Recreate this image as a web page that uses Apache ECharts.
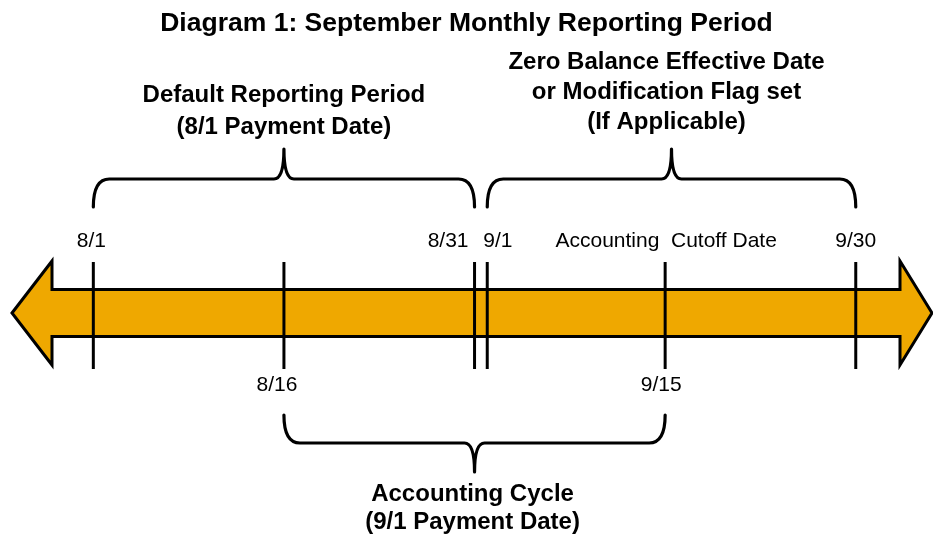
<!DOCTYPE html>
<html><head><meta charset="utf-8">
<script src="https://cdn.jsdelivr.net/npm/echarts@6/dist/echarts.min.js"></script>
<style>html,body{margin:0;padding:0;background:#fff}#main{width:933px;height:538px}</style>
</head><body><div id="main"></div>
<script>
// ---- data ----
const titleText = 'Diagram 1: September Monthly Reporting Period';
const tickNames = ['8/1', '8/16', '8/31', '9/1', '9/15', '9/30'];
const tickDays = [1, 16, 31, 32, 46, 61];           // day index from Aug 1
const topLabels = ['8/1', '', '8/31', '9/1', 'Accounting  Cutoff Date', '9/30'];
const bottomLabels = ['', '8/16', '', '', '9/15', ''];
const timelineStart = -5.4;
const timelineEnd = 67;
const braceStarts = [1, 32, 16];
const braceEnds = [31, 61, 46];
const braceSides = ['top', 'top', 'bottom'];
const braceLabels = [
  'Default Reporting Period\n(8/1 Payment Date)',
  'Zero Balance Effective Date\nor Modification Flag set\n(If Applicable)',
  'Accounting Cycle\n(9/1 Payment Date)'
];

// ---- styles ----
const FONT = '"Liberation Sans", Arial, Helvetica, sans-serif';
const ORANGE = '#EFA800';
const topLabelDx = [-2, 0, -6, -4, 1, 0];
const topLabelAlign = ['center', 'center', 'right', 'left', 'center', 'center'];
const bottomLabelDx = [0, -7, 0, 0, -4, 0];
const braceLabelDx = [0, -5, -2];
const braceLabelGap = [6, 12, 8];
const braceLineHeight = [32, 30, 28];

const chart = echarts.init(document.getElementById('main'), null, {renderer: 'canvas'});

const option = {
  backgroundColor: '#fff',
  animation: false,
  title: {
    text: titleText, left: 'center', top: 10, padding: 0,
    textStyle: {fontFamily: FONT, fontWeight: 'bold', fontSize: 26.5, color: '#000'}
  },
  grid: {left: 12, right: 1, top: 0, bottom: 0},
  xAxis: {type: 'value', min: timelineStart, max: timelineEnd, show: false},
  yAxis: {type: 'value', min: -225, max: 313, show: false},
  series: [
    {
      type: 'custom', clip: false, silent: true,
      data: [[timelineStart, timelineEnd]],
      renderItem: function (params, api) {
        const a = api.coord([api.value(0), 0]);
        const b = api.coord([api.value(1), 0]);
        const cy = a[1], hs = 23.5, hh = 52, hl = 40, hr = 32;
        return {
          type: 'polygon',
          shape: {points: [
            [a[0], cy], [a[0] + hl, cy - hh], [a[0] + hl, cy - hs], [b[0] - hr, cy - hs],
            [b[0] - hr, cy - hh], [b[0], cy], [b[0] - hr, cy + hh], [b[0] - hr, cy + hs],
            [a[0] + hl, cy + hs], [a[0] + hl, cy + hh]
          ]},
          style: {fill: ORANGE, stroke: '#000', lineWidth: 3, lineJoin: 'miter'}
        };
      }
    },
    {
      type: 'custom', clip: false, silent: true,
      data: tickDays.map((d, i) => [d, i]),
      renderItem: function (params, api) {
        const i = api.value(1);
        const p = api.coord([api.value(0), 0]);
        const children = [{
          type: 'line',
          shape: {x1: p[0], y1: p[1] - 51, x2: p[0], y2: p[1] + 56},
          style: {stroke: '#000', lineWidth: 3}
        }];
        if (topLabels[i]) children.push({
          type: 'text',
          style: {text: topLabels[i], x: p[0] + topLabelDx[i], y: p[1] - 72,
            align: topLabelAlign[i], verticalAlign: 'middle',
            font: '21px ' + FONT, fill: '#000'}
        });
        if (bottomLabels[i]) children.push({
          type: 'text',
          style: {text: bottomLabels[i], x: p[0] + bottomLabelDx[i], y: p[1] + 72,
            align: 'center', verticalAlign: 'middle',
            font: '21px ' + FONT, fill: '#000'}
        });
        return {type: 'group', children: children};
      }
    },
    {
      type: 'custom', clip: false, silent: true,
      data: braceStarts.map((s, i) => [s, braceEnds[i], i]),
      renderItem: function (params, api) {
        const i = api.value(2);
        const p1 = api.coord([api.value(0), 0]);
        const p2 = api.coord([api.value(1), 0]);
        const cy = p1[1];
        const x1 = p1[0], x2 = p2[0], xm = (x1 + x2) / 2;
        const up = braceSides[i] === 'top';
        const yEnd = up ? cy - 106 : cy + 102;
        const yH = up ? cy - 134 : cy + 130;
        const yTip = up ? cy - 164 : cy + 159;
        const d = 'M' + x1 + ' ' + yEnd +
          ' Q' + x1 + ' ' + yH + ' ' + (x1 + 16) + ' ' + yH +
          ' L' + (xm - 10) + ' ' + yH +
          ' Q' + xm + ' ' + yH + ' ' + xm + ' ' + yTip +
          ' Q' + xm + ' ' + yH + ' ' + (xm + 10) + ' ' + yH +
          ' L' + (x2 - 16) + ' ' + yH +
          ' Q' + x2 + ' ' + yH + ' ' + x2 + ' ' + yEnd;
        return {
          type: 'group',
          children: [
            {type: 'path', shape: {pathData: d},
              style: {fill: null, stroke: '#000', lineWidth: 3.2, lineCap: 'round', lineJoin: 'round'}},
            {type: 'text', style: {
              text: braceLabels[i], x: xm + braceLabelDx[i],
              y: up ? yTip - braceLabelGap[i] : yTip + braceLabelGap[i],
              align: 'center', verticalAlign: up ? 'bottom' : 'top',
              lineHeight: braceLineHeight[i],
              font: 'bold 24px ' + FONT, fill: '#000'}}
          ]
        };
      }
    }
  ]
};
chart.setOption(option);
</script>
</body></html>
